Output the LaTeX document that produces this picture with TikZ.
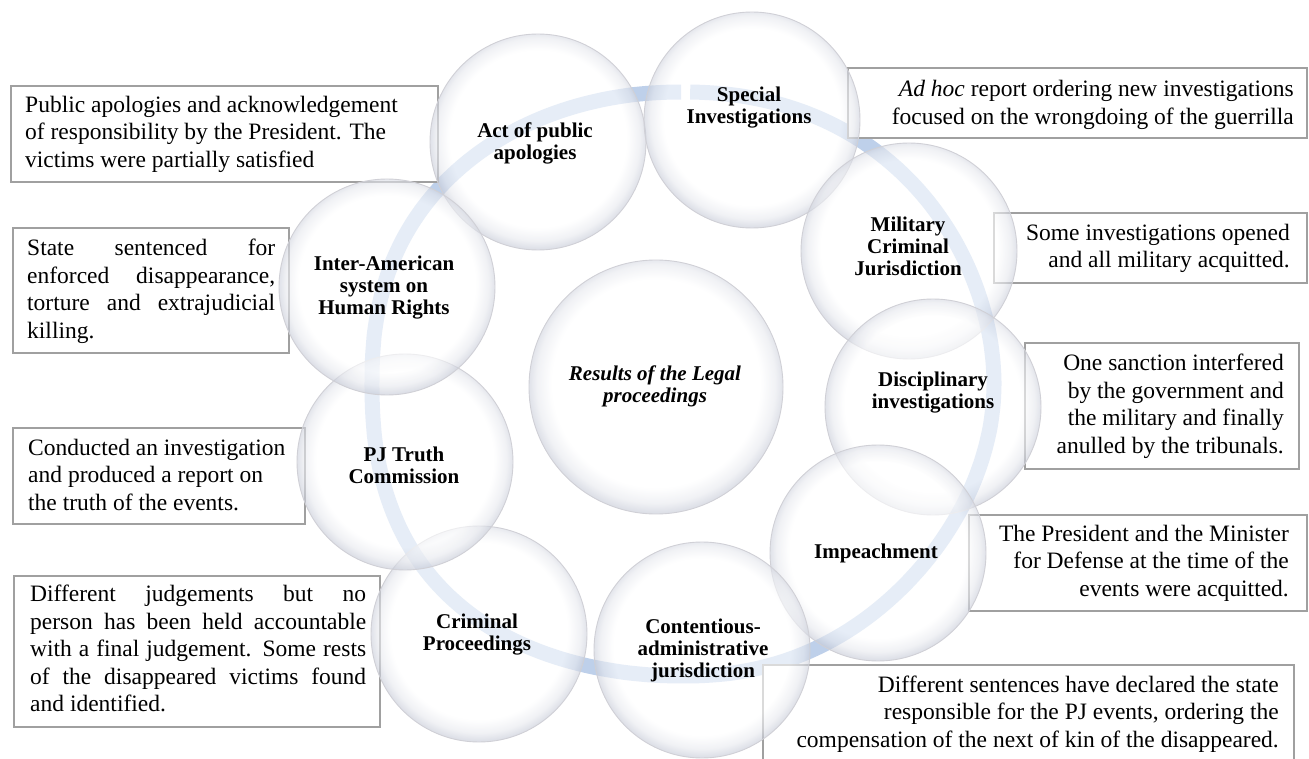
\documentclass[tikz,border=0pt]{standalone}
\usepackage{fontspec}
\setmainfont{Liberation Serif}
\definecolor{ringblue}{RGB}{190,208,234}
\definecolor{boxline}{RGB}{160,160,160}
\definecolor{bubedge}{RGB}{188,193,208}
\definecolor{bubline}{RGB}{208,208,214}
\pgfdeclareradialshading{bubble}{\pgfpoint{0bp}{1.2bp}}{color(0bp)=(white); color(20.5bp)=(white); color(23.5bp)=(bubedge!35!white); color(26bp)=(bubedge); color(50bp)=(bubedge)}
\tikzset{
  declare function={
    ringn(\t)=2.12-0.17*cos(\t)-0.05*sin(2*\t);
    ringx(\t)=683+311*sign(cos(\t))*pow(max(abs(cos(\t)),0.00001),2/ringn(\t));
    ringy(\t)=384+292*sign(sin(\t))*pow(max(abs(sin(\t)),0.00001),2/ringn(\t));
  },
  bub/.style={circle, shade, shading=bubble, fill opacity=0.62, draw=bubline, draw opacity=1, line width=0.9pt, inner sep=0pt, minimum size=216},
  lab/.style={font=\fontsize{21}{22}\selectfont\bfseries, align=center, inner sep=0pt},
  txt/.style={font=\fontsize{23.5}{27.5}\selectfont, inner sep=0pt},
  boxr/.style={rectangle, draw=boxline, line width=1.5pt, fill=white, inner sep=0pt},
  ringband/.style={draw=ringblue, line width=15pt},
}
\begin{document}
\begin{tikzpicture}[x=1pt,y=-1pt]
\useasboundingbox (0,0) rectangle (1309,759);
\clip (0,0) rectangle (1309,759);
% ring (circular arrow band, clockwise, open at the top)
\draw[ringband] plot[domain=271.05:629.75, samples=240, smooth] ({ringx(\x)},{ringy(\x)});
% boxes
\node[boxr, minimum width=427, minimum height=96] (bA) at (224.5,134) {};
\node[boxr, minimum width=276, minimum height=125] (bB) at (151,290.5) {};
\node[boxr, minimum width=292, minimum height=96] (bC) at (159,476) {};
\node[boxr, minimum width=366, minimum height=151] (bD) at (197,651.5) {};
\node[boxr, minimum width=459, minimum height=70] (bE) at (1077.5,103) {};
\node[boxr, minimum width=313, minimum height=70] (bF) at (1150.5,248) {};
\node[boxr, minimum width=274, minimum height=126] (bG) at (1162,406) {};
\node[boxr, minimum width=338, minimum height=96] (bH) at (1138,563) {};
\node[boxr, minimum width=531, minimum height=130] (bI) at (1028.5,730) {};
% circles
\node[bub] (c1) at (538,142) {};
\node[bub] (c2) at (752,120) {};
\node[bub] (c3) at (909,251) {};
\node[bub] (c4) at (933,407) {};
\node[bub] (c5) at (878,553) {};
\node[bub] (c6) at (702,650) {};
\node[bub] (c7) at (479,634) {};
\node[bub] (c8) at (405,462) {};
\node[bub] (c9) at (387,287) {};
\node[bub, minimum size=254] (c0) at (656,387) {};
% circle labels
\node[lab, font=\fontsize{21}{22}\selectfont\bfseries\itshape] (l0) at (655,387) {\strut Results of the Legal\\\strut proceedings};
\node[lab] (l1) at (535,144) {\strut Act of public\\\strut apologies};
\node[lab] (l2) at (749,108) {\strut Special\\\strut Investigations};
\node[lab] (l3) at (908,249) {\strut Military\\\strut Criminal\\\strut Jurisdiction};
\node[lab] (l4) at (933,393) {\strut Disciplinary\\\strut investigations};
\node[lab] (l5) at (876,554) {\strut Impeachment};
\node[lab] (l6) at (703,651) {\strut Contentious-\\\strut administrative\\\strut jurisdiction};
\node[lab] (l7) at (477,635) {\strut Criminal\\\strut Proceedings};
\node[lab] (l8) at (404,468) {\strut PJ Truth\\\strut Commission};
\node[lab] (l9) at (384,288) {\strut Inter-American\\\strut system on\\\strut Human Rights};
% box texts
\node[txt, anchor=west, align=left] (tA) at (25,134.5) {\strut Public apologies and acknowledgement\\\strut of responsibility by the President. The\\\strut victims were partially satisfied};
\node[txt, anchor=west, align=left] (tB) at (27,291.7) {\makebox[248pt][s]{\strut State sentenced for}\\\makebox[248pt][s]{\strut enforced disappearance,}\\\makebox[248pt][s]{\strut torture and extrajudicial}\\\strut killing.};
\node[txt, anchor=west, align=left] (tC) at (28,477) {\strut Conducted an investigation\\\strut and produced a report on\\\strut the truth of the events.};
\node[txt, anchor=west, align=left] (tD) at (30,651) {\makebox[336pt][s]{\strut Different judgements but no}\\\makebox[336pt][s]{\strut person has been held accountable}\\\makebox[336pt][s]{\strut with a final judgement. Some rests}\\\makebox[336pt][s]{\strut of the disappeared victims found}\\\strut and identified.};
\node[txt, anchor=east, align=right] (tE) at (1294,105) {\strut\textit{Ad hoc} report ordering new investigations\\\strut focused on the wrongdoing of the guerrilla};
\node[txt, anchor=east, align=right] (tF) at (1290,248.5) {\strut Some investigations opened\\\strut and all military acquitted.};
\node[txt, anchor=east, align=right] (tG) at (1284,406.5) {\strut One sanction interfered\\\strut by the government and\\\strut the military and finally\\\strut anulled by the tribunals.};
\node[txt, anchor=east, align=right] (tH) at (1289,563) {\strut The President and the Minister\\\strut for Defense at the time of the\\\strut events were acquitted.};
\node[txt, anchor=east, align=right] (tI) at (1279,714) {\strut Different sentences have declared the state\\\strut responsible for the PJ events, ordering the\\\strut compensation of the next of kin of the disappeared.};
\end{tikzpicture}
\end{document}
